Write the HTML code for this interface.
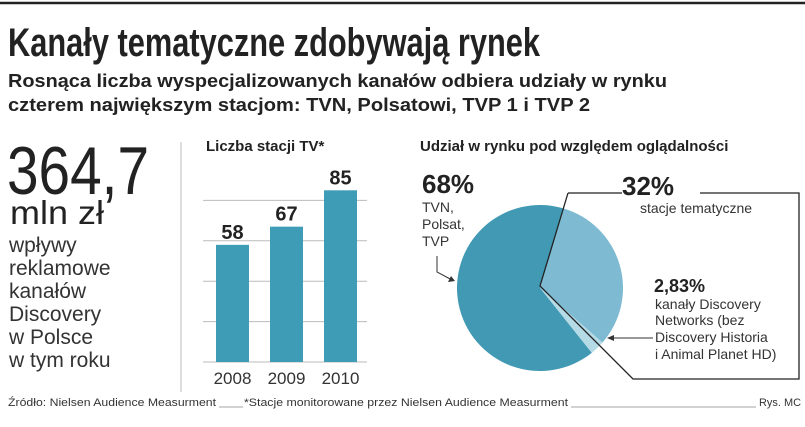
<!DOCTYPE html>
<html><head><meta charset="utf-8">
<style>
html,body{margin:0;padding:0;background:#fff;}
svg{display:block;font-family:"Liberation Sans",sans-serif;}
</style></head>
<body>
<svg id="chart" width="805" height="427" viewBox="0 0 805 427" xmlns="http://www.w3.org/2000/svg">
  <line x1="0" y1="3" x2="805" y2="3" stroke="#222" stroke-width="2.5"/>
  <text x="8" y="56" font-size="40" font-weight="bold" fill="#222" textLength="532" lengthAdjust="spacingAndGlyphs">Kanały tematyczne zdobywają rynek</text>
  <text x="8" y="87" font-size="18" font-weight="bold" fill="#222" textLength="659" lengthAdjust="spacingAndGlyphs">Rosnąca liczba wyspecjalizowanych kanałów odbiera udziały w rynku</text>
  <text x="8" y="111" font-size="18" font-weight="bold" fill="#222" textLength="582" lengthAdjust="spacingAndGlyphs">czterem największym stacjom: TVN, Polsatowi, TVP 1 i TVP 2</text>

  <text x="7" y="194" font-size="68" fill="#222" textLength="142" lengthAdjust="spacingAndGlyphs">364,7</text>
  <text x="10" y="224" font-size="33" fill="#222" textLength="94" lengthAdjust="spacingAndGlyphs">mln zł</text>
  <g font-size="21" fill="#333">
    <text x="9" y="252">wpływy</text>
    <text x="9" y="275">reklamowe</text>
    <text x="9" y="298">kanałów</text>
    <text x="9" y="321">Discovery</text>
    <text x="9" y="344">w Polsce</text>
    <text x="9" y="367">w tym roku</text>
  </g>

  <line x1="181" y1="142" x2="181" y2="392" stroke="#bbb" stroke-width="1"/>
  <text x="206" y="151" font-size="15" font-weight="bold" fill="#222">Liczba stacji TV*</text>
  <g id="bars"></g>

  <text x="420" y="151" font-size="15" font-weight="bold" fill="#222">Udział w rynku pod względem oglądalności</text>
  <g id="pie"></g>

  <polyline points="568,193 622,193" fill="none" stroke="#222" stroke-width="1.3"/>
  <polyline points="700,193 799,193 799,379 633,379 540,286 568,193" fill="none" stroke="#222" stroke-width="1.3"/>
  <text x="622" y="195" font-size="26" font-weight="bold" fill="#222">32%</text>
  <text x="640" y="213" font-size="14" fill="#333">stacje tematyczne</text>

  <text x="422" y="193" font-size="26" font-weight="bold" fill="#222">68%</text>
  <g font-size="14" fill="#333">
    <text x="422" y="212">TVN,</text>
    <text x="422" y="229">Polsat,</text>
    <text x="422" y="246">TVP</text>
  </g>
  <polyline points="437,256 437,272 452,280" fill="none" stroke="#333" stroke-width="1"/>
  <polygon points="455,281 448,282 451,276" fill="#333"/>

  <text x="654" y="292" font-size="18" font-weight="bold" fill="#222">2,83%</text>
  <g font-size="14" fill="#333">
    <text x="655" y="309">kanały Discovery</text>
    <text x="655" y="325">Networks (bez</text>
    <text x="655" y="342">Discovery Historia</text>
    <text x="655" y="359">i Animal Planet HD)</text>
  </g>
  <line x1="612" y1="338" x2="653" y2="338" stroke="#333" stroke-width="1"/>
  <polygon points="607,338 614,335 614,341" fill="#333"/>

  <text x="8" y="406" font-size="11" fill="#333" textLength="208" lengthAdjust="spacingAndGlyphs">Źródło: Nielsen Audience Measurment</text>
  <line x1="219" y1="407" x2="243" y2="407" stroke="#888" stroke-width="0.8"/>
  <text x="244" y="406" font-size="11" fill="#333" textLength="324" lengthAdjust="spacingAndGlyphs">*Stacje monitorowane przez Nielsen Audience Measurment</text>
  <line x1="571" y1="407" x2="756" y2="407" stroke="#888" stroke-width="0.8"/>
  <text x="759" y="406" font-size="11" fill="#333" textLength="42" lengthAdjust="spacingAndGlyphs">Rys. MC</text>
</svg>
<script>
const years = ["2008", "2009", "2010"];
const stationCounts = [58, 67, 85];
const gridValues = [20, 40, 60, 80];
const shareLabels = ["stacje tematyczne", "Discovery Networks", "TVN, Polsat, TVP"];
const shareValues = [32, 2.83, 65.17];

const NS = "http://www.w3.org/2000/svg";
function mk(tag, attrs, parent) {
  const el = document.createElementNS(NS, tag);
  for (const k in attrs) el.setAttribute(k, attrs[k]);
  parent.appendChild(el);
  return el;
}
const baseY = 362, pxPerUnit = 2.02;
function yScale(v) { return baseY - v * pxPerUnit; }
const bandX0 = 216, bandStep = 54, barW = 33;
function xScale(i) { return bandX0 + i * bandStep; }

const bars = document.getElementById("bars");
gridValues.forEach(g => {
  const l = mk("line", {x1: 203, x2: 367, y1: yScale(g), y2: yScale(g), stroke: "#bbb", "stroke-width": 1}, bars);
  
  
});
const base = mk("line", {x1: 203, x2: 367, y1: baseY, y2: baseY, stroke: "#bbb", "stroke-width": 1}, bars);


stationCounts.forEach((v, i) => {
  const r = mk("rect", {x: xScale(i), y: yScale(v), width: barW, height: baseY - yScale(v), fill: "#3f9cb7"}, bars);
  
  
  const t = mk("text", {x: xScale(i) + barW / 2, y: yScale(v) - 6, "text-anchor": "middle", "font-size": 20, "font-weight": "bold", fill: "#222"}, bars);
  t.textContent = v;
  
  
  const yl = mk("text", {x: xScale(i) + barW / 2, y: 384, "text-anchor": "middle", "font-size": 17, fill: "#333"}, bars);
  yl.textContent = years[i];
  
  
});

const pie = document.getElementById("pie");
const cx = 540, cy = 288, R = 83, startDeg = 16;
const colors = ["#7ebbd3", "#b5dbe7", "#4199b4"];
const total = shareValues.reduce((a, b) => a + b, 0);
let acc = 0;
function pt(deg) { const a = deg * Math.PI / 180; return [cx + R * Math.sin(a), cy - R * Math.cos(a)]; }
shareValues.forEach((v, i) => {
  const a0 = startDeg + acc / total * 360;
  acc += v;
  const a1 = startDeg + acc / total * 360;
  const p0 = pt(a0), p1 = pt(a1);
  const large = (a1 - a0) > 180 ? 1 : 0;
  const p = mk("path", {d: `M${cx},${cy} L${p0[0]},${p0[1]} A${R},${R} 0 ${large} 1 ${p1[0]},${p1[1]} Z`, fill: colors[i]}, pie);
  
  
});
</script>
</body></html>
